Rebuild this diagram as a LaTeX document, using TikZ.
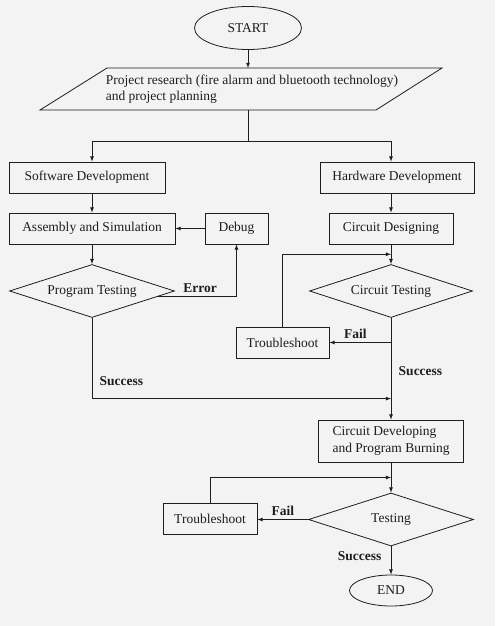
\documentclass[tikz,border=0pt]{standalone}
\usepackage{fontspec}
\setmainfont{Liberation Serif}
\usetikzlibrary{shapes.geometric,calc}

\newcommand{\flowfont}{\fontsize{13.5}{16.5}\selectfont}
\definecolor{bgcol}{HTML}{F3F3F3}
\definecolor{inkcol}{HTML}{1E1E1E}

\tikzstyle{process} = [draw,rectangle,minimum height=31pt,inner sep=2pt]
\tikzstyle{decision} = [draw,diamond,aspect=3,minimum height=53pt,inner sep=0pt]
\tikzstyle{terminal} = [draw,ellipse,inner sep=0pt]
\tikzstyle{arrowdecorate} = [->,>=latex]
\tikzstyle{cond} = [font=\flowfont\bfseries]

\begin{document}
\begin{tikzpicture}[x=1pt,y=-1pt,line width=0.8pt,color=inkcol,every node/.style={font=\flowfont}]
  \fill[bgcol] (0,0) rectangle (495,626);

  \node[terminal, minimum width=107pt, minimum height=43pt] (start) at (248,28) {START};
  % input/output parallelogram
  \node[align=left] (plan) at (252,89) {Project research (fire alarm and bluetooth technology)\\and project planning};
  \draw (107,68) -- (442,68) -- (376,110) -- (40,110) -- cycle;
  \coordinate (plantop) at (248,68);
  \coordinate (planbot) at (248,110);
  \node[process, align=left, minimum width=145pt, minimum height=42pt] (cdev) at (391,441) {Circuit Developing\\and Program Burning};
  \node[terminal, minimum width=83pt, minimum height=31pt] (stop) at (391,590.5) {END};

  \foreach \nodename/\x/\y/\w/\txt in {
    sw/87/177.5/156/Software Development,
    hw/397/177.5/154/Hardware Development,
    asm/92/228.5/166/Assembly and Simulation,
    debug/236.5/228.5/63/Debug,
    cdes/391/228.5/124/Circuit Designing,
    tsa/282.5/342.5/93/Troubleshoot,
    tsb/210/518.5/94/Troubleshoot}
  {
    \node[process, minimum width=\w pt] (\nodename) at (\x,\y) {\txt};
  }

  \foreach \nodename/\x/\y/\w/\txt in {
    ptest/92/291/165/Program Testing,
    ctest/391/291/163/Circuit Testing,
    test/391/519.5/165/Testing}
  {
    \node[decision, minimum width=\w pt] (\nodename) at (\x,\y) {\txt};
  }

  \coordinate (split) at (248,141);

  %edges
  \draw[arrowdecorate] (start.south) -- (plantop);
  \draw (planbot) -- (split);
  \draw[arrowdecorate] (split) -| (sw.north -| asm.north);
  \draw[arrowdecorate] (split) -| (hw.north -| cdes.north);
  \draw[arrowdecorate] (sw.south -| asm.north) -- (asm.north);
  \draw[arrowdecorate] (hw.south -| cdes.north) -- (cdes.north);

  \path
  \foreach \startnode/\endnode in {asm/ptest, cdes/ctest, cdev/test}
  {
    (\startnode.south) edge[arrowdecorate] (\endnode.north)
  };

  \draw[arrowdecorate] (debug.west) -- (debug.west -| asm.east);
  \draw[arrowdecorate] (ptest.-5) -| node[cond, above, pos=0.27] {Error} (debug.south);

  \draw[arrowdecorate] (ctest.south) |- node[cond, above, pos=0.79] {Fail} (tsa.east);
  \draw[arrowdecorate] (tsa.north) |- ($(cdes.south)!0.5!(ctest.north)$);
  \draw[arrowdecorate] (ctest.south) -- node[cond, right, pos=0.52, xshift=4pt] {Success} (cdev.north);
  \draw[arrowdecorate] (ptest.south) |- node[cond, right, pos=0.39, xshift=4pt] {Success} ($(cdev.north)+(0,-21)$);

  \draw[arrowdecorate] (test.west) -- node[cond, above] {Fail} (test.west -| tsb.east);
  \draw[arrowdecorate] (tsb.north) |- ($(cdev.south)!0.5!(test.north)$);
  \draw[arrowdecorate] (test.south) -- node[cond, left, pos=0.35, xshift=-6pt] {Success} (stop.north);

\end{tikzpicture}
\end{document}
